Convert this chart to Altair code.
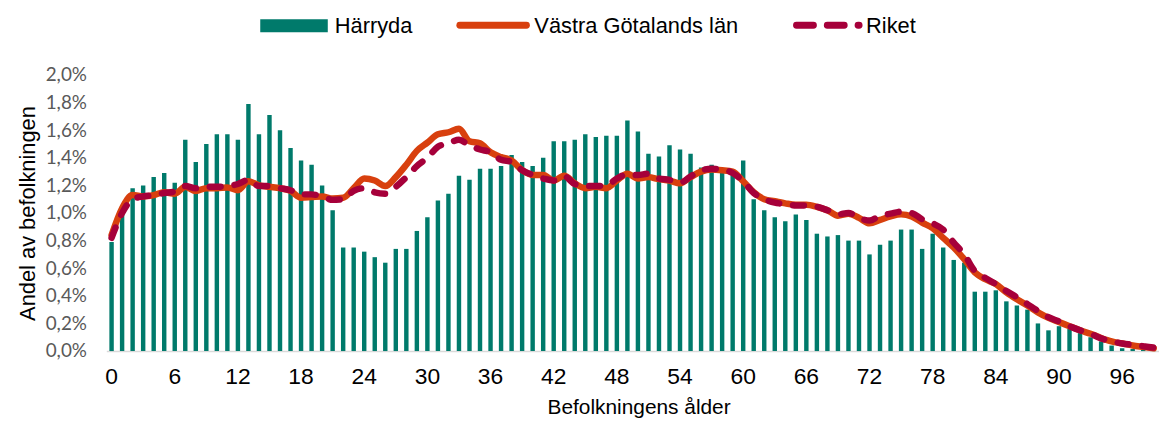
import altair as alt
import pandas as pd

ages = list(range(0, 100))

harryda = [0.79, 1.00, 1.18, 1.20, 1.26, 1.29, 1.22, 1.53, 1.37, 1.50,
           1.57, 1.57, 1.53, 1.79, 1.57, 1.71, 1.60, 1.47, 1.38, 1.35,
           1.20, 1.02, 0.75, 0.75, 0.72, 0.68, 0.64, 0.74, 0.74, 0.87,
           0.97, 1.09, 1.14, 1.27, 1.24, 1.32, 1.32, 1.34, 1.42, 1.37,
           1.34, 1.40, 1.52, 1.52, 1.53, 1.57, 1.55, 1.56, 1.56, 1.67,
           1.59, 1.43, 1.41, 1.49, 1.46, 1.43, 1.33, 1.35, 1.30, 1.28,
           1.38, 1.10, 1.02, 0.97, 0.94, 0.99, 0.95, 0.85, 0.83, 0.84,
           0.80, 0.80, 0.70, 0.77, 0.80, 0.88, 0.88, 0.74, 0.85, 0.75,
           0.66, 0.64, 0.43, 0.43, 0.44, 0.36, 0.33, 0.30, 0.20, 0.15,
           0.18, 0.16, 0.13, 0.10, 0.07, 0.04, 0.02, 0.015, 0.008, 0.005]

vastra_gotaland = [0.84, 1.035, 1.13, 1.12, 1.13, 1.15, 1.14, 1.19, 1.16, 1.18,
                   1.18, 1.185, 1.165, 1.23, 1.20, 1.19, 1.18, 1.16, 1.11, 1.115,
                   1.12, 1.105, 1.11, 1.18, 1.25, 1.235, 1.195, 1.26, 1.35, 1.45,
                   1.51, 1.57, 1.585, 1.61, 1.52, 1.505, 1.44, 1.405, 1.38, 1.31,
                   1.275, 1.275, 1.235, 1.27, 1.215, 1.18, 1.19, 1.18, 1.235, 1.285,
                   1.25, 1.26, 1.245, 1.235, 1.215, 1.26, 1.30, 1.315, 1.31, 1.30,
                   1.23, 1.15, 1.10, 1.085, 1.07, 1.06, 1.06, 1.045, 1.02, 0.98,
                   0.995, 0.965, 0.925, 0.95, 0.975, 0.99, 0.975, 0.93, 0.89, 0.82,
                   0.75, 0.665, 0.57, 0.52, 0.485, 0.425, 0.375, 0.33, 0.28, 0.24,
                   0.21, 0.18, 0.15, 0.125, 0.095, 0.07, 0.055, 0.04, 0.03, 0.02]

riket = [0.82, 1.00, 1.10, 1.12, 1.13, 1.145, 1.155, 1.195, 1.18, 1.19,
         1.19, 1.195, 1.21, 1.24, 1.195, 1.195, 1.18, 1.165, 1.135, 1.135,
         1.12, 1.095, 1.10, 1.16, 1.18, 1.15, 1.14, 1.19, 1.26, 1.34,
         1.40, 1.48, 1.505, 1.53, 1.49, 1.46, 1.44, 1.385, 1.37, 1.31,
         1.275, 1.25, 1.235, 1.265, 1.21, 1.195, 1.195, 1.20, 1.25, 1.28,
         1.275, 1.285, 1.25, 1.24, 1.22, 1.265, 1.31, 1.32, 1.315, 1.29,
         1.23, 1.145, 1.10, 1.075, 1.065, 1.055, 1.055, 1.045, 1.02, 0.99,
         1.00, 0.965, 0.945, 0.98, 0.995, 1.01, 1.00, 0.955, 0.925, 0.88,
         0.785, 0.70, 0.58, 0.53, 0.485, 0.435, 0.39, 0.34, 0.29, 0.245,
         0.215, 0.18, 0.15, 0.125, 0.092, 0.07, 0.055, 0.045, 0.035, 0.025]

x_tick_values = list(range(0, 97, 6))
y_tick_values = [0.0, 0.2, 0.4, 0.6, 0.8, 1.0, 1.2, 1.4, 1.6, 1.8, 2.0]

series_names = ["Härryda", "Västra Götalands län", "Riket"]

TEAL = "#007A6B"
ORANGE = "#D8400E"
CRIMSON = "#A6003A"
TEXT_FONT = "Liberation Sans"
YLABEL_FONT = "Lato"

df = pd.DataFrame({"age": ages, "harryda": harryda, "vgr": vastra_gotaland, "riket": riket})
one = pd.DataFrame({"k": [0]})

xscale = alt.Scale(paddingInner=0.58, paddingOuter=0.29)
yscale = alt.Scale(domain=[0, 2], nice=False)

X_TITLE = "Befolkningens ålder"
Y_TITLE = "Andel av befolkningen"

x_axis = alt.Axis(values=x_tick_values, labelAngle=0, ticks=False, grid=False,
                  domainColor="#D9D9D9", domainWidth=1.5,
                  labelFont=TEXT_FONT, labelFontSize=23, labelColor="#000000", labelPadding=15,
                  titleFont=TEXT_FONT, titleFontSize=21,
                  titleFontWeight="normal", titleColor="#000000",
                  titleX=536, titleY=57, titleAlign="center", titleBaseline="middle")

y_axis = alt.Axis(values=y_tick_values,
                  labelExpr="replace(format(datum.value, '.1f'), '.', ',') + '%'",
                  grid=False, domain=False, ticks=False,
                  labelFont=YLABEL_FONT, labelFontSize=19, labelColor="#595959", labelPadding=20,
                  titleFont=TEXT_FONT, titleFontSize=22,
                  titleFontWeight="normal", titleColor="#000000",
                  titleAngle=-90, titleX=-79, titleY=139, titleAlign="center", titleBaseline="middle")


def xenc():
    return alt.X("age:O", scale=xscale, axis=x_axis, title=X_TITLE)


def yenc(field):
    return alt.Y(field + ":Q", scale=yscale, axis=y_axis, title=Y_TITLE)


bars = alt.Chart(df).mark_bar(color=TEAL).encode(x=xenc(), y=yenc("harryda"))

line_vgr = alt.Chart(df).mark_line(color=ORANGE, strokeWidth=6.5, strokeCap="round",
                                   strokeJoin="round", interpolate="monotone").encode(
    x=xenc(), y=yenc("vgr"))

line_riket = alt.Chart(df).mark_line(color=CRIMSON, strokeWidth=6.5, strokeCap="round",
                                     strokeJoin="round", strokeDash=[11, 14],
                                     interpolate="monotone").encode(
    x=xenc(), y=yenc("riket"))

# legend (top, centered)
leg_swatch = alt.Chart(one).mark_rect(color=TEAL).encode(
    x=alt.value(155), x2=alt.value(223), y=alt.value(-56), y2=alt.value(-43))
leg_t1 = alt.Chart(one).mark_text(align="left", baseline="middle", font=TEXT_FONT,
                                  fontSize=22, color="#000000").encode(
    x=alt.value(230), y=alt.value(-49), text=alt.value(series_names[0]))
leg_l2 = alt.Chart(one).mark_rule(color=ORANGE, strokeWidth=7, strokeCap="round").encode(
    x=alt.value(356), x2=alt.value(423), y=alt.value(-50))
leg_t2 = alt.Chart(one).mark_text(align="left", baseline="middle", font=TEXT_FONT,
                                  fontSize=22, color="#000000").encode(
    x=alt.value(431), y=alt.value(-49), text=alt.value(series_names[1]))
leg_l3 = alt.Chart(one).mark_rule(color=CRIMSON, strokeWidth=7, strokeCap="round",
                                  strokeDash=[17, 14]).encode(
    x=alt.value(695), x2=alt.value(758), y=alt.value(-50))
leg_t3 = alt.Chart(one).mark_text(align="left", baseline="middle", font=TEXT_FONT,
                                  fontSize=22, color="#000000").encode(
    x=alt.value(765), y=alt.value(-49), text=alt.value(series_names[2]))

chart = alt.layer(
    bars, line_vgr, line_riket,
    leg_swatch, leg_t1, leg_l2, leg_t2, leg_l3, leg_t3,
).properties(
    width=1060, height=278,
    autosize=alt.AutoSizeParams(type="none"),
    padding={"left": 99, "top": 66, "right": 0, "bottom": 67},
    background="white",
).configure_view(stroke=None)

chart.save("out.html", embed_options={"renderer": "svg", "actions": False})
